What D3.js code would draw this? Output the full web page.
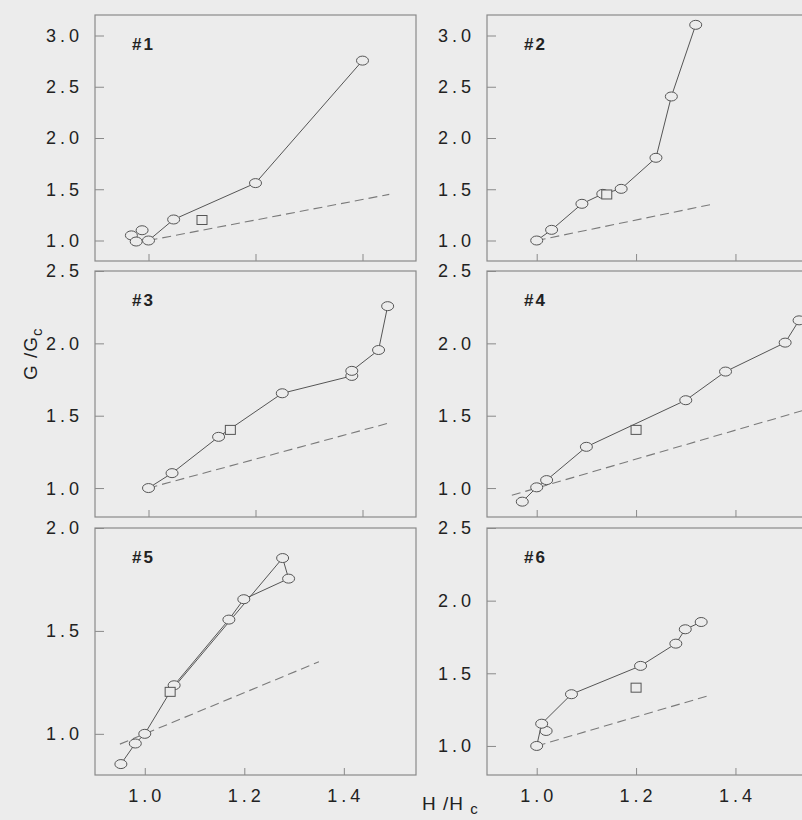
<!DOCTYPE html>
<html>
<head>
<meta charset="utf-8">
<script src="https://cdn.jsdelivr.net/npm/d3@7"></script>
<style>
  body { margin: 0; background: #ececec; }
  svg { display: block; }
  text { font-family: "Liberation Sans", Arial, sans-serif; fill: #222; }
</style>
</head>
<body>
<div id="chart"></div>
<script>
// panel labels and axis ranges
const panelNames = ["#1", "#2", "#3", "#4", "#5", "#6"];
const xTicks = [1.0, 1.2, 1.4];
const xDomains = [[0.9, 1.5], [0.9, 1.55], [0.9, 1.5], [0.9, 1.55], [0.9, 1.545], [0.9, 1.55]];
const yDomains = [[0.8, 3.2], [0.8, 3.2], [0.8, 2.5], [0.8, 2.5], [0.8, 2.0], [0.8, 2.5]];
const yTicks = [
  [1.0, 1.5, 2.0, 2.5, 3.0],
  [1.0, 1.5, 2.0, 2.5, 3.0],
  [1.0, 1.5, 2.0, 2.5],
  [1.0, 1.5, 2.0, 2.5],
  [1.0, 1.5, 2.0],
  [1.0, 1.5, 2.0, 2.5]
];

// measured points (H/Hc, G/Gc)
const circ1 = [[0.968, 1.05], [0.988, 1.10], [0.977, 0.99], [1.0, 1.0], [1.047, 1.205], [1.2, 1.56], [1.4, 2.755]];
const line1 = [[1.0, 1.0], [1.047, 1.205], [1.2, 1.56], [1.4, 2.755]];
const sq1 = [[1.10, 1.20]];

const circ2 = [[1.0, 1.0], [1.030, 1.104], [1.091, 1.358], [1.133, 1.455], [1.170, 1.504], [1.240, 1.807], [1.271, 2.405], [1.320, 3.104]];
const line2 = circ2;
const sq2 = [[1.141, 1.449]];

const circ3 = [[1.0, 1.0], [1.044, 1.103], [1.131, 1.354], [1.25, 1.655], [1.38, 1.775], [1.38, 1.81], [1.43, 1.954], [1.447, 2.257]];
const line3 = circ3;
const sq3 = [[1.153, 1.402]];

const circ4 = [[0.971, 0.906], [1.0, 1.005], [1.02, 1.055], [1.1, 1.285], [1.3, 1.607], [1.38, 1.805], [1.5, 2.005], [1.528, 2.159]];
const line4 = circ4;
const sq4 = [[1.2, 1.402]];

const circ5 = [[0.952, 0.853], [0.981, 0.953], [1.0, 1.0], [1.059, 1.236], [1.169, 1.555], [1.199, 1.654], [1.277, 1.854], [1.289, 1.754]];
const line5 = [[0.952, 0.853], [0.981, 0.953], [1.0, 1.0], [1.051, 1.204], [1.277, 1.854], [1.289, 1.754], [1.199, 1.654], [1.169, 1.555], [1.059, 1.236]];
const sq5 = [[1.051, 1.204]];

const circ6 = [[1.0, 1.0], [1.019, 1.103], [1.01, 1.153], [1.07, 1.356], [1.209, 1.551], [1.28, 1.704], [1.299, 1.803], [1.331, 1.853]];
const line6 = [[1.0, 1.0], [1.01, 1.153], [1.07, 1.356], [1.209, 1.551], [1.28, 1.704], [1.299, 1.803], [1.331, 1.853]];
const sq6 = [[1.2, 1.401]];

// G/Gc = H/Hc reference (dashed), x range per panel
const diagRange = [[1.0, 1.45], [1.0, 1.35], [1.0, 1.45], [0.95, 1.6], [0.95, 1.35], [1.0, 1.35]];

const circles = [circ1, circ2, circ3, circ4, circ5, circ6];
const lines = [line1, line2, line3, line4, line5, line6];
const squares = [sq1, sq2, sq3, sq4, sq5, sq6];

const W = 802, H = 820;
const bg = "#ececec";
const colX = [[95, 416], [487, 810]];
const rowY = [[15, 261], [271, 517], [528, 775]];

const svg = d3.select("#chart").append("svg")
  .attr("width", W)
  .attr("height", H);

svg.append("rect").attr("width", W).attr("height", H).attr("fill", bg);

panelNames.forEach(function(name, i) {
  let c = colX[i % 2], r = rowY[Math.floor(i / 2)];
  let x = d3.scaleLinear().domain(xDomains[i]).range(c);
  let y = d3.scaleLinear().domain(yDomains[i]).range([r[1], r[0]]);
  let g = svg.append("g");

  let clipId = "clip" + i;
  g.append("clipPath").attr("id", clipId)
    .append("rect")
    .attr("x", c[0]).attr("y", r[0])
    .attr("width", c[1] - c[0]).attr("height", r[1] - r[0]);

  // y axis, ticks inward
  let yAxis = d3.axisRight(y).tickValues(yTicks[i]).tickSize(9).tickFormat("");
  let ya = g.append("g").attr("transform", "translate(" + c[0] + ",0)").call(yAxis);
  ya.select(".domain").remove();
  ya.selectAll("line").attr("stroke", "#8a8a8a");

  g.selectAll(".ylab").data(yTicks[i]).enter().append("text")
    .attr("x", c[0] - 12)
    .attr("y", d => y(d))
    .attr("dy", "0.36em")
    .attr("text-anchor", "end")
    .style("font-size", "18px")
    .style("letter-spacing", "4px")
    .text(d => d3.format(".1f")(d));

  // x axis, ticks inward
  let xAxis = d3.axisTop(x).tickValues(xTicks).tickSize(7).tickFormat("");
  let xa = g.append("g").attr("transform", "translate(0," + r[1] + ")").call(xAxis);
  xa.select(".domain").remove();
  xa.selectAll("line").attr("stroke", "#8a8a8a");

  if (i >= 4) {
    g.selectAll(".xlab").data(xTicks).enter().append("text")
      .attr("x", d => x(d) + 2)
      .attr("y", r[1] + 27)
      .attr("text-anchor", "middle")
      .style("font-size", "18px")
      .style("letter-spacing", "4px")
      .text(d => d3.format(".1f")(d));
  }

  g.append("rect")
    .attr("x", c[0]).attr("y", r[0])
    .attr("width", c[1] - c[0]).attr("height", r[1] - r[0])
    .attr("fill", "none")
    .attr("stroke", "#8a8a8a")
    .attr("stroke-width", 1.2);

  let plot = g.append("g").attr("clip-path", "url(#" + clipId + ")");

  plot.append("line")
    .attr("x1", x(diagRange[i][0])).attr("y1", y(diagRange[i][0]))
    .attr("x2", x(diagRange[i][1])).attr("y2", y(diagRange[i][1]))
    .attr("stroke", "#7a7a7a")
    .attr("stroke-width", 1.1)
    .attr("stroke-dasharray", "9,5");

  let lineGen = d3.line().x(d => x(d[0])).y(d => y(d[1]));
  plot.append("path")
    .attr("d", lineGen(lines[i]))
    .attr("fill", "none")
    .attr("stroke", "#555")
    .attr("stroke-width", 1);

  plot.selectAll(".pt").data(circles[i]).enter().append("ellipse")
    .attr("cx", d => x(d[0]))
    .attr("cy", d => y(d[1]))
    .attr("rx", 6)
    .attr("ry", 4.5)
    .attr("fill", bg)
    .attr("stroke", "#555")
    .attr("stroke-width", 1);

  plot.selectAll(".sq").data(squares[i]).enter().append("rect")
    .attr("x", d => x(d[0]) - 5)
    .attr("y", d => y(d[1]) - 4.5)
    .attr("width", 10)
    .attr("height", 9)
    .attr("fill", bg)
    .attr("stroke", "#555")
    .attr("stroke-width", 1);

  g.append("text")
    .attr("x", c[0] + 37)
    .attr("y", r[0] + 35)
    .style("font-size", "17px")
    .style("font-weight", "bold")
    .style("letter-spacing", "2px")
    .text(name);
});

// axis titles
let yt = svg.append("text")
  .attr("transform", "translate(37,380) rotate(-90)")
  .style("font-size", "19px")
  .style("letter-spacing", "1px");
yt.append("tspan").text("G /G");
yt.append("tspan").attr("dy", 5).style("font-size", "15px").text("c");

let xt = svg.append("text")
  .attr("x", 422)
  .attr("y", 810)
  .style("font-size", "19px")
  .style("letter-spacing", "1px");
xt.append("tspan").text("H /H ");
xt.append("tspan").attr("dy", 4).style("font-size", "15px").text("c");
</script>
</body>
</html>
